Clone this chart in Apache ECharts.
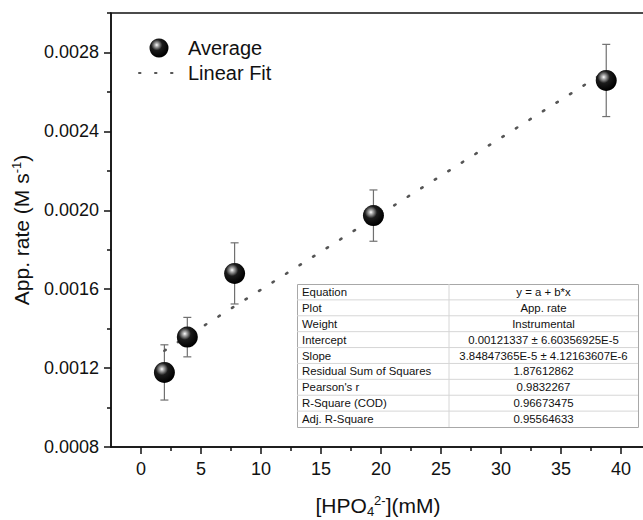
<!DOCTYPE html>
<html>
<head>
<meta charset="utf-8">
<script src="https://cdn.jsdelivr.net/npm/echarts@6/dist/echarts.min.js"></script>
<style>
html,body{margin:0;padding:0;background:#fff;}
#c{width:643px;height:520px;}
</style>
</head>
<body>
<div id="c"></div>
<script>
// ---- data ----
const concX = [1.95, 3.86, 7.8, 19.37, 38.77];          // [HPO4 2-] (mM)
const rateY = [0.001178, 0.001357, 0.00168, 0.001973, 0.002658]; // App. rate
const rateErr = [0.00014, 0.0001, 0.000155, 0.00013, 0.000183];
const fitX = [1.95, 38.77];
const fitY = [0.001288, 0.002705];
const xTickVals = [0, 5, 10, 15, 20, 25, 30, 35, 40];
const xMinorVals = [2.5, 7.5, 12.5, 17.5, 22.5, 27.5, 32.5, 37.5];
const yTickVals = [0.0008, 0.0012, 0.0016, 0.0020, 0.0024, 0.0028];
const yMinorVals = [0.0010, 0.0014, 0.0018, 0.0022, 0.0026, 0.0030];
const tableLabels = ['Equation', 'Plot', 'Weight', 'Intercept', 'Slope',
  'Residual Sum of Squares', "Pearson's r", 'R-Square (COD)', 'Adj. R-Square'];
const tableValues = ['y = a + b*x', 'App. rate', 'Instrumental',
  '0.00121337 \u00b1 6.60356925E-5', '3.84847365E-5 \u00b1 4.12163607E-6',
  '1.87612862', '0.9832267', '0.96673475', '0.95564633'];

const FONT = '"Liberation Sans", Arial, sans-serif';
const chart = echarts.init(document.getElementById('c'), null, {renderer: 'svg'});

const scatterData = concX.map((x, i) => [x, rateY[i]]);
const errData = concX.map((x, i) => [x, rateY[i] - rateErr[i], rateY[i] + rateErr[i]]);
const fitData = fitX.map((x, i) => [x, fitY[i]]);

const sphere = new echarts.graphic.RadialGradient(0.38, 0.34, 0.64, [
  {offset: 0, color: '#ffffff'},
  {offset: 0.14, color: '#b0b0b0'},
  {offset: 0.45, color: '#1c1c1c'},
  {offset: 1, color: '#000'}
]);

// table graphic
const tLeft = 297, tTop = 284, tW = 341, tH = 143, colW = 152;
const rowH = tH / tableLabels.length;
const tableEls = [];
tableEls.push({type: 'rect', left: tLeft, top: tTop, shape: {width: tW, height: tH},
  style: {fill: '#fff', stroke: '#a8a8a8', lineWidth: 1}, z: 100});
for (let i = 1; i < tableLabels.length; i++) {
  tableEls.push({type: 'line', shape: {x1: tLeft, y1: tTop + i * rowH, x2: tLeft + tW, y2: tTop + i * rowH},
    style: {stroke: '#d6d6d6', lineWidth: 1}, z: 101});
}
tableEls.push({type: 'line', shape: {x1: tLeft + colW, y1: tTop, x2: tLeft + colW, y2: tTop + tH},
  style: {stroke: '#d6d6d6', lineWidth: 1}, z: 101});
tableLabels.forEach((t, i) => {
  tableEls.push({type: 'text', x: tLeft + 5, y: tTop + (i + 0.5) * rowH, z: 102,
    style: {text: t, fill: '#111', font: '11.4px ' + FONT, textVerticalAlign: 'middle', verticalAlign: 'middle'}});
  tableEls.push({type: 'text', x: tLeft + colW + (tW - colW) / 2, y: tTop + (i + 0.5) * rowH, z: 102,
    style: {text: tableValues[i], fill: '#111', font: '11.4px ' + FONT, textAlign: 'center', align: 'center',
      textVerticalAlign: 'middle', verticalAlign: 'middle'}});
});

const option = {
  backgroundColor: '#fff',
  animation: false,
  textStyle: {fontFamily: FONT},
  grid: {left: 111, right: -2, top: 13, bottom: 73, show: true, borderColor: '#111', borderWidth: 1.5,
    containLabel: false, outerBoundsMode: 'none'},
  legend: {
    data: ['Average', {name: 'Linear Fit', itemStyle: {opacity: 0}}],
    orient: 'vertical', left: 133, top: 33, itemGap: 5, itemWidth: 40, itemHeight: 19,
    textStyle: {fontSize: 20, color: '#111', fontFamily: FONT, padding: [0, 0, 0, 4]},
    selectedMode: false
  },
  xAxis: [{
    type: 'value', min: -2.5, max: 42, position: 'bottom',
    splitLine: {show: false},
    axisLine: {show: true, onZero: false, lineStyle: {color: '#111', width: 1.5}},
    axisTick: {show: true, inside: false, length: 7, customValues: xTickVals, lineStyle: {color: '#111', width: 1.5}},
    axisLabel: {customValues: xTickVals, fontSize: 18, color: '#111', margin: 13, fontFamily: FONT},
    name: '{n|[HPO}{sub|4}{sup|2-}{n|](mM)}',
    nameLocation: 'middle', nameGap: 46,
    nameTextStyle: {
      rich: {
        n: {fontSize: 21, color: '#111', fontFamily: FONT},
        sub: {fontSize: 13, color: '#111', fontFamily: FONT, padding: [12, 0, 0, 0]},
        sup: {fontSize: 13, color: '#111', fontFamily: FONT, padding: [0, 0, 10, 0]}
      }
    }
  }, {
    type: 'value', min: -2.5, max: 42, position: 'bottom', gridIndex: 0,
    splitLine: {show: false},
    axisLine: {show: false, onZero: false},
    axisTick: {show: true, inside: false, length: 4, customValues: xMinorVals, lineStyle: {color: '#111', width: 1.5}},
    axisLabel: {show: false}
  }],
  yAxis: [{
    type: 'value', min: 0.0008, max: 0.0030,
    splitLine: {show: false},
    axisLine: {show: true, onZero: false, lineStyle: {color: '#111', width: 1.5}},
    axisTick: {show: true, inside: false, length: 7, customValues: yTickVals, lineStyle: {color: '#111', width: 1.5}},
    axisLabel: {customValues: yTickVals, fontSize: 18, color: '#111', margin: 12, fontFamily: FONT,
      formatter: v => v.toFixed(4)},
    name: '{n|App. rate (M s}{sup|-1}{n|)}',
    nameLocation: 'middle', nameGap: 78,
    nameTextStyle: {
      rich: {
        n: {fontSize: 21, color: '#111', fontFamily: FONT},
        sup: {fontSize: 13, color: '#111', fontFamily: FONT, padding: [0, 0, 10, 0]}
      }
    }
  }, {
    type: 'value', min: 0.0008, max: 0.0030, position: 'left',
    splitLine: {show: false},
    axisLine: {show: false, onZero: false},
    axisTick: {show: true, inside: false, length: 4, customValues: yMinorVals, lineStyle: {color: '#111', width: 1.5}},
    axisLabel: {show: false}
  }],
  series: [{
    name: 'Linear Fit', type: 'line', data: fitData, xAxisIndex: 0, yAxisIndex: 0,
    symbol: 'none', z: 3,
    lineStyle: {color: '#555', width: 2.6, type: [1.5, 14.5], cap: 'round'},
    itemStyle: {color: '#555'}
  }, {
    name: 'err', type: 'custom', data: errData, xAxisIndex: 0, yAxisIndex: 0, z: 2,
    renderItem: function (params, api) {
      const x = api.value(0);
      const pLo = api.coord([x, api.value(1)]);
      const pHi = api.coord([x, api.value(2)]);
      const cw = 4;
      const st = {stroke: '#707070', lineWidth: 1.2};
      return {type: 'group', children: [
        {type: 'line', shape: {x1: pLo[0], y1: pLo[1], x2: pHi[0], y2: pHi[1]}, style: st},
        {type: 'line', shape: {x1: pLo[0] - cw, y1: pLo[1], x2: pLo[0] + cw, y2: pLo[1]}, style: st},
        {type: 'line', shape: {x1: pHi[0] - cw, y1: pHi[1], x2: pHi[0] + cw, y2: pHi[1]}, style: st}
      ]};
    }
  }, {
    name: 'Average', type: 'scatter', data: scatterData, xAxisIndex: 0, yAxisIndex: 0,
    symbol: 'circle', symbolSize: 21, z: 4,
    itemStyle: {color: sphere, opacity: 1}
  }],
  graphic: {elements: tableEls}
};
chart.setOption(option);
</script>
</body>
</html>
